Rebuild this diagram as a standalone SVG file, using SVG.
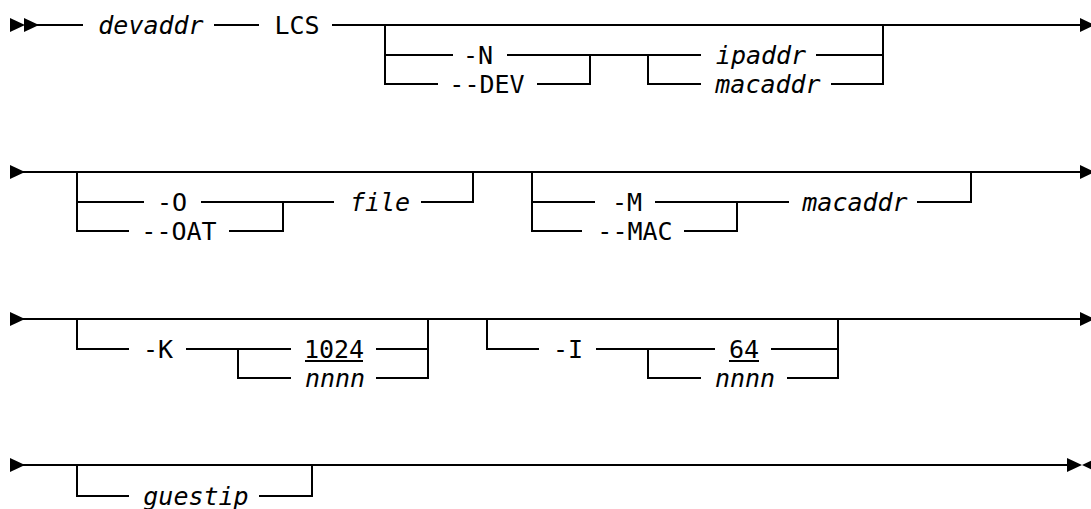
<svg xmlns="http://www.w3.org/2000/svg" xmlns:xlink="http://www.w3.org/1999/xlink" width="1091" height="509" viewBox="0 0 1091 509">
<style>
.ln{fill:none;stroke:#000;stroke-width:2;stroke-linejoin:miter;stroke-linecap:square}
.ah{fill:#000}
text{font-family:"DejaVu Sans Mono","Liberation Mono",monospace;font-size:25px;fill:#000;text-anchor:middle}
.v{font-style:italic}
.ul{stroke:#000;stroke-width:2}
</style>
<defs>
<polygon id="arr" class="ah" points="0,-7 15,0 0,7"/>
<polygon id="arrL" class="ah" points="15,-7 0,0 15,7"/>
</defs>
<g id="connectors">
<path class="ln" d="M38,25 H82 M215,25 H258 M333,25 H1082"/>
<path class="ln" d="M385,25 V84 H437 M385,55 H452 M508,55 H700 M538,84 H590 V55 M648,55 V84 H700 M817,55 H883 V25 M832,84 H883 V55"/>
<path class="ln" d="M24,172 H1082"/>
<path class="ln" d="M77,172 V231 H128 M77,202 H143 M202,202 H333 M230,231 H283 V202 M422,202 H473 V172"/>
<path class="ln" d="M532,172 V231 H581 M532,202 H594 M656,202 H788 M685,231 H737 V202 M918,202 H971 V172"/>
<path class="ln" d="M24,319 H1082"/>
<path class="ln" d="M77,319 V349 H128 M187,349 H290 M238,349 V378 H290 M377,349 H428 M377,378 H428 V319"/>
<path class="ln" d="M487,319 V349 H538 M597,349 H714 M648,349 V378 H700 M772,349 H838 M788,378 H838 V319"/>
<path class="ln" d="M24,465 H1067"/>
<path class="ln" d="M77,465 V496 H128 M260,496 H312 V465"/>
<use xlink:href="#arr" x="10" y="25"/>
<use xlink:href="#arr" x="24" y="25"/>
<use xlink:href="#arr" x="1080" y="25"/>
<use xlink:href="#arr" x="10" y="172"/>
<use xlink:href="#arr" x="1080" y="172"/>
<use xlink:href="#arr" x="10" y="319"/>
<use xlink:href="#arr" x="1080" y="319"/>
<use xlink:href="#arr" x="10" y="465"/>
<use xlink:href="#arr" x="1067" y="465"/>
<use xlink:href="#arrL" x="1082" y="465"/>
</g>
<g id="n-devaddr"><text class="v" x="151" y="34">devaddr</text></g>
<g id="n-lcs"><text x="297" y="34">LCS</text></g>
<g id="n-N"><text x="478" y="64">-N</text></g>
<g id="n-DEV"><text x="487" y="93">--DEV</text></g>
<g id="n-ipaddr"><text class="v" x="761" y="64">ipaddr</text></g>
<g id="n-macaddr1"><text class="v" x="768" y="93">macaddr</text></g>
<g id="n-O"><text x="172" y="211">-O</text></g>
<g id="n-OAT"><text x="179" y="240">--OAT</text></g>
<g id="n-file"><text class="v" x="380" y="211">file</text></g>
<g id="n-M"><text x="627" y="211">-M</text></g>
<g id="n-MAC"><text x="635" y="240">--MAC</text></g>
<g id="n-macaddr2"><text class="v" x="855" y="211">macaddr</text></g>
<g id="n-K"><text x="158" y="358">-K</text></g>
<g id="n-1024"><text x="334" y="358">1024</text><line class="ul" x1="305" y1="361" x2="363" y2="361"/></g>
<g id="n-nnnn1"><text class="v" x="335" y="387">nnnn</text></g>
<g id="n-I"><text x="568" y="358">-I</text></g>
<g id="n-64"><text x="744" y="358">64</text><line class="ul" x1="729" y1="361" x2="759" y2="361"/></g>
<g id="n-nnnn2"><text class="v" x="745" y="387">nnnn</text></g>
<g id="n-guestip"><text class="v" x="196" y="505">guestip</text></g>
</svg>
